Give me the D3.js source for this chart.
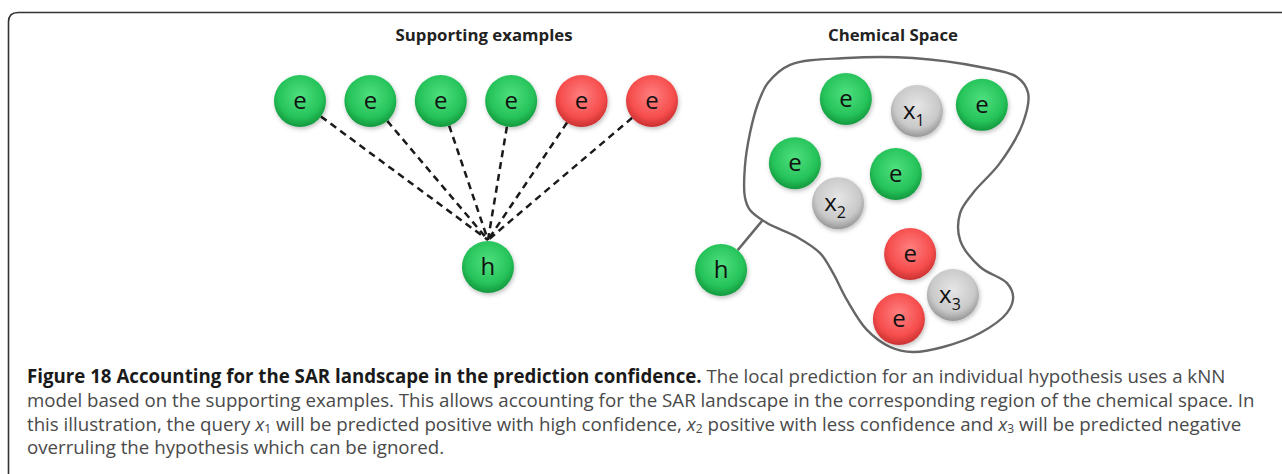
<!DOCTYPE html>
<html lang="en">
<head>
<meta charset="UTF-8">
<title>SAR landscape</title>
<script src="https://d3js.org/d3.v7.min.js"></script>
<style>
  body { margin: 0; background: #fff; }
  text { font-family: "Open Sans", sans-serif; }
  .title { font-weight: bold; font-size: 16.8px; fill: #222; text-anchor: middle; }
  .lbl { font-size: 24px; fill: #111; text-anchor: middle; }
  .cap { font-size: 18.7px; fill: #4a4a4a; }
</style>
</head>
<body>
<script>
// supporting examples (fan diagram)
var exampleLabels = ["e", "e", "e", "e", "e", "e"];
var exampleClass = ["pos", "pos", "pos", "pos", "neg", "neg"];
var hypothesisPos = 2.67;

// chemical space nodes, in 0-100 descriptor units
var spaceLabels = ["e", "x", "e", "e", "e", "x", "e", "x", "e"];
var spaceSubs = ["", "1", "", "", "", "2", "", "3", ""];
var spaceClass = ["pos", "query", "pos", "pos", "pos", "query", "neg", "query", "neg"];
var spaceX = [42.9, 63.8, 82.9, 27.9, 57.6, 40.6, 61.8, 74.4, 58.5];
var spaceY = [15.8, 19.7, 17.7, 36.5, 40.0, 49.4, 65.8, 79.0, 86.8];
var spaceH = [6.2, 71.0];
var spaceLinkEnd = [18.5, 54.8];

// region outline
var outlineX = [20.0, 26.5, 43.2, 62.6, 82.4, 93.2, 96.5, 95.0, 88.2, 80.3, 76.5, 76.5, 82.4, 90.3, 92.1,
  90.3, 82.4, 71.5, 62.6, 55.9, 49.1, 43.2, 39.1, 35.3, 28.5, 19.7, 14.7, 13.2, 13.2, 14.7, 17.1];
var outlineY = [10.6, 4.8, 2.6, 2.6, 5.5, 8.7, 13.9, 23.5, 36.5, 46.1, 52.6, 61.3, 70.0, 75.2, 79.7,
  84.8, 91.3, 95.8, 97.4, 95.8, 90.3, 80.6, 71.9, 65.5, 60.3, 55.8, 51.6, 47.4, 37.7, 26.8, 17.1];

var captionLines = [
  [{t: "Figure 18 Accounting for the SAR landscape in the prediction confidence.", b: true},
   {t: " The local prediction for an individual hypothesis uses a kNN"}],
  [{t: "model based on the supporting examples. This allows accounting for the SAR landscape in the corresponding region of the chemical space. In"}],
  [{t: "this illustration, the query "}, {t: "x", i: true}, {t: "1", sub: true},
   {t: " will be predicted positive with high confidence, "}, {t: "x", i: true}, {t: "2", sub: true},
   {t: " positive with less confidence and "}, {t: "x", i: true}, {t: "3", sub: true},
   {t: " will be predicted negative"}],
  [{t: "overruling the hypothesis which can be ignored."}]
];

var W = 1282, H = 474, R = 26;

var svg = d3.select("body").append("svg").attr("width", W).attr("height", H);
var defs = svg.append("defs");

var palette = {
  pos: ["#4fe07f", "#26c35a", "#13983e"],
  neg: ["#ff8080", "#f64d4d", "#c93030"],
  query: ["#e6e6e6", "#c9c9c9", "#969696"]
};
Object.keys(palette).forEach(function(k) {
  var g = defs.append("radialGradient").attr("id", "g-" + k)
    .attr("cx", "50%").attr("cy", "40%").attr("r", "60%");
  g.append("stop").attr("offset", "0%").attr("stop-color", palette[k][0]);
  g.append("stop").attr("offset", "70%").attr("stop-color", palette[k][1]);
  g.append("stop").attr("offset", "100%").attr("stop-color", palette[k][2]);
});
var sh = defs.append("filter").attr("id", "shadow").attr("x", "-30%").attr("y", "-30%")
  .attr("width", "160%").attr("height", "160%");
sh.append("feDropShadow").attr("dx", 1).attr("dy", 2).attr("stdDeviation", 2)
  .attr("flood-color", "#000").attr("flood-opacity", 0.25);

// frame
svg.append("path")
  .attr("d", "M8.5,480 V22 Q8.5,12.5 18,12.5 H1290")
  .attr("fill", "none").attr("stroke", "#333").attr("stroke-width", 1.6);

// titles
svg.append("text").attr("class", "title").attr("x", 484).attr("y", 41).text("Supporting examples");
svg.append("text").attr("class", "title").attr("x", 893).attr("y", 41).text("Chemical Space");

function node(g, cx, cy, cls, label, sub) {
  var n = g.append("g").attr("transform", "translate(" + cx + "," + cy + ")");
  n.append("circle").attr("r", R).attr("fill", "url(#g-" + cls + ")").attr("filter", "url(#shadow)");
  var t = n.append("text").attr("class", "lbl").attr("y", 8);
  if (sub) {
    t.attr("x", -3);
    t.append("tspan").text(label);
    t.append("tspan").attr("dy", 7).attr("font-size", 16).text(sub);
  } else {
    t.text(label);
  }
}

// fan diagram
var fx = d3.scaleLinear().domain([0, 5]).range([300, 652]);
var fy = d3.scaleLinear().domain([0, 1]).range([267, 101]);
var fan = svg.append("g");
var hx = fx(hypothesisPos), hy = fy(0), topY = hy - R - 1;
fan.selectAll("line").data(exampleLabels).join("line")
  .attr("x1", function(d, i) {
    var dx = hx - fx(i), dy = topY - fy(1), l = Math.hypot(dx, dy);
    return fx(i) + dx / l * R;
  })
  .attr("y1", function(d, i) {
    var dx = hx - fx(i), dy = topY - fy(1), l = Math.hypot(dx, dy);
    return fy(1) + dy / l * R;
  })
  .attr("x2", hx).attr("y2", topY)
  .attr("stroke", "#1a1a1a").attr("stroke-width", 2.5).attr("stroke-dasharray", "7,5");
exampleLabels.forEach(function(d, i) { node(fan, fx(i), fy(1), exampleClass[i], d); });
node(fan, hx, hy, "pos", "h");

// chemical space
var sx = d3.scaleLinear().domain([0, 100]).range([700, 1040]);
var sy = d3.scaleLinear().domain([0, 100]).range([50, 360]);
var space = svg.append("g");
var outline = d3.range(outlineX.length).map(function(i) { return [sx(outlineX[i]), sy(outlineY[i])]; });
space.append("path")
  .attr("d", d3.line().curve(d3.curveCatmullRomClosed.alpha(0.5))(outline))
  .attr("fill", "none").attr("stroke", "#666").attr("stroke-width", 2.4);

var shx = sx(spaceH[0]), shy = sy(spaceH[1]);
var ex = sx(spaceLinkEnd[0]), ey = sy(spaceLinkEnd[1]);
var dl = Math.hypot(ex - shx, ey - shy);
space.append("line")
  .attr("x1", shx + (ex - shx) / dl * R).attr("y1", shy + (ey - shy) / dl * R)
  .attr("x2", ex).attr("y2", ey)
  .attr("stroke", "#666").attr("stroke-width", 2.4);
node(space, shx, shy, "pos", "h");
spaceLabels.forEach(function(d, i) {
  node(space, sx(spaceX[i]), sy(spaceY[i]), spaceClass[i], d, spaceSubs[i]);
});

// caption
var cap = svg.append("text").attr("class", "cap");
captionLines.forEach(function(segs, li) {
  var line = cap.append("tspan").attr("x", 27).attr("y", 383 + li * 23.8);
  var shifted = false;
  segs.forEach(function(s) {
    var ts = line.append("tspan").text(s.t);
    if (s.b) ts.attr("font-weight", "bold").attr("fill", "#1a1a1a");
    if (s.i) ts.attr("font-style", "italic");
    if (s.sub) {
      ts.attr("font-size", 12).attr("dy", 2);
      shifted = true;
    } else if (shifted) {
      ts.attr("dy", -2);
      shifted = false;
    }
  });
});
</script>
</body>
</html>
